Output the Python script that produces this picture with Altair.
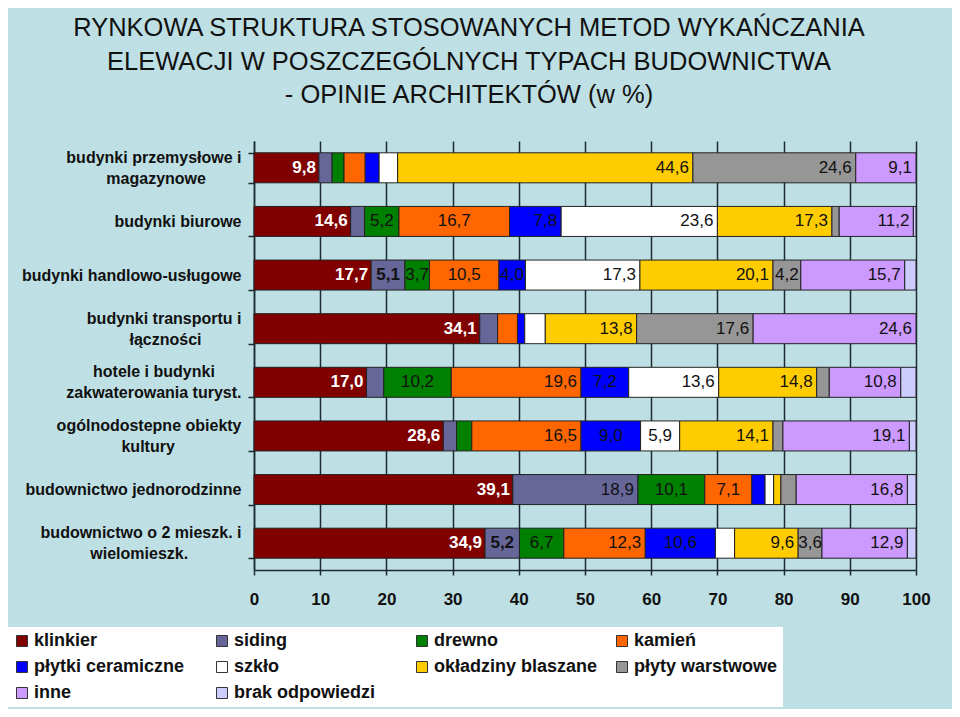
import altair as alt
import pandas as pd

NB = "\u00a0"
WJ = "\u2060"

# category labels: lines and right-side padding (nbsp) to centre lines within the block
cat_lines = [
    ["budynki przemysłowe i", "magazynowe"],
    ["budynki biurowe"],
    ["budynki handlowo-usługowe"],
    ["budynki transportu i", "łączności"],
    ["hotele i budynki", "zakwaterowania turyst."],
    ["ogólnodostepne obiekty", "kultury"],
    ["budownictwo jednorodzinne"],
    ["budownictwo o 2 mieszk. i", "wielomieszk."],
]
cat_pads = [[0, 8], [0], [0], [0, 9], [6, 0], [0, 15], [0], [0, 12]]
categories = ["|".join(l + (NB * p + WJ if p else "") for l, p in zip(ls, ps))
              for ls, ps in zip(cat_lines, cat_pads)]

series = ["klinkier", "siding", "drewno", "kamień", "płytki ceramiczne", "szkło",
          "okładziny blaszane", "płyty warstwowe", "inne", "brak odpowiedzi"]
colors = ["#800000", "#666699", "#008000", "#FF6600", "#0000FF", "#FFFFFF",
          "#FFCC00", "#969696", "#CC99FF", "#CCCCFF"]

v_przem = [9.8, 2.0, 1.8, 3.2, 2.1, 2.8, 44.6, 24.6, 9.1, 0.0]
v_biur = [14.6, 2.1, 5.2, 16.7, 7.8, 23.6, 17.3, 1.1, 11.2, 0.4]
v_handl = [17.7, 5.1, 3.7, 10.5, 4.0, 17.3, 20.1, 4.2, 15.7, 1.7]
v_transp = [34.1, 2.7, 0.0, 3.0, 1.1, 3.1, 13.8, 17.6, 24.6, 0.0]
v_hotel = [17.0, 2.6, 10.2, 19.6, 7.2, 13.6, 14.8, 1.9, 10.8, 2.3]
v_kult = [28.6, 2.0, 2.3, 16.5, 9.0, 5.9, 14.1, 1.5, 19.1, 1.0]
v_jedn = [39.1, 18.9, 10.1, 7.1, 2.0, 1.3, 1.1, 2.3, 16.8, 1.3]
v_wiel = [34.9, 5.2, 6.7, 12.3, 10.6, 2.9, 9.6, 3.6, 12.9, 1.3]
values = [v_przem, v_biur, v_handl, v_transp, v_hotel, v_kult, v_jedn, v_wiel]

label_min = 3.5
centered = [(1, "drewno"), (1, "kamień"), (2, "siding"), (2, "drewno"), (2, "kamień"),
            (2, "płytki ceramiczne"), (2, "płyty warstwowe"), (4, "drewno"),
            (4, "płytki ceramiczne"), (5, "płytki ceramiczne"), (5, "szkło"),
            (6, "drewno"), (6, "kamień"), (7, "siding"), (7, "drewno"),
            (7, "płytki ceramiczne"), (7, "płyty warstwowe")]
bold_black = [(2, "siding"), (7, "siding")]

rows = []
for ci, (cat, vals) in enumerate(zip(categories, values)):
    for si, (s, v) in enumerate(zip(series, vals)):
        if s == "klinkier":
            style = "white"
        elif (ci, s) in bold_black:
            style = "boldc"
        elif (ci, s) in centered:
            style = "center"
        else:
            style = "right"
        rows.append({"cat": cat, "series": s, "v": v, "idx": si,
                     "lab": v >= label_min, "style": style})
df = pd.DataFrame(rows)

FONT = "Liberation Sans"
DARK = "#1c2a33"

base = alt.Chart(df).transform_stack(
    stack="v", groupby=["cat"], as_=["v0", "v1"], sort=[alt.SortField("idx")]
).transform_calculate(
    vm="(datum.v0 + datum.v1) / 2",
    txt="replace(format(datum.v, '.1f'), '.', ',')"
)

yenc = alt.Y("cat:N", sort=categories,
             scale=alt.Scale(paddingInner=0.44, paddingOuter=0.22),
             axis=alt.Axis(title=None, labelExpr="split(datum.label, '|')",
                           labelFont=FONT, labelFontSize=16, labelFontWeight="bold",
                           labelColor="#111", labelLineHeight=21, labelLimit=400,
                           labelPadding=7,
                           labelOffset={"condition": {"test": "indexof(datum.label, '|') >= 0",
                                                      "value": -10.5},
                                        "value": 0},
                           tickBand="extent", tickSize=6,
                           tickColor=DARK, tickWidth=1.5, domainColor=DARK,
                           domainWidth=1.5, grid=False))

bars = base.transform_filter("datum.v > 0").mark_bar(
    stroke="#222", strokeWidth=1, opacity=1
).encode(
    x=alt.X("v0:Q", scale=alt.Scale(domain=[0, 100], nice=False),
            axis=alt.Axis(title=None, values=list(range(0, 101, 10)), grid=True,
                          gridColor=DARK, gridWidth=1.5, tickSize=5, tickColor=DARK,
                          tickWidth=1.5, domainColor=DARK, domainWidth=1.5,
                          labelFont=FONT, labelFontSize=17, labelFontWeight="bold",
                          labelColor="#111", labelPadding=16, labelFlush=False)),
    x2="v1:Q",
    y=yenc,
    color=alt.Color("series:N", sort=series,
                    scale=alt.Scale(domain=series, range=colors),
                    legend=alt.Legend(orient="none", legendX=-246, legendY=486,
                                      columns=4, direction="horizontal",
                                      title=None, symbolType="square",
                                      symbolSize=121, symbolStrokeColor="#333",
                                      symbolStrokeWidth=1, symbolOpacity=1,
                                      labelFont=FONT, labelFontSize=18,
                                      labelFontWeight="bold", labelColor="#111",
                                      fillColor="white", padding=5, rowPadding=8,
                                      columnPadding=15, gridAlign="all",
                                      labelOffset=3, labelLimit=300)),
)


def labels(style, color, weight, align, xfield, dx):
    return base.transform_filter(
        f"datum.lab && datum.style == '{style}'"
    ).mark_text(
        font=FONT, fontSize=17, fontWeight=weight, color=color,
        align=align, baseline="middle", dx=dx
    ).encode(
        x=alt.X(f"{xfield}:Q"),
        y=alt.Y("cat:N", sort=categories),
        text="txt:N",
    )


layers = [
    bars,
    labels("white", "white", "bold", "right", "v1", -3),
    labels("right", "#111", "normal", "right", "v1", -4),
    labels("center", "#111", "normal", "center", "vm", 0),
    labels("boldc", "#111", "bold", "center", "vm", 0),
]

chart = alt.layer(*layers).properties(
    width=662, height=429,
    autosize=alt.AutoSizeParams(type="none"),
    padding={"left": 246, "top": 133, "right": 36, "bottom": 139},
    background="#BEE0E4",
    title=alt.TitleParams(
        text=["RYNKOWA STRUKTURA STOSOWANYCH METOD WYKAŃCZANIA",
              "ELEWACJI W POSZCZEGÓLNYCH TYPACH BUDOWNICTWA",
              "- OPINIE ARCHITEKTÓW (w %)"],
        font=FONT, fontSize=25.5, fontWeight="normal", color="#111",
        lineHeight=33.5, anchor="middle", frame="group", dx=-116, offset=24.5),
).configure_view(stroke=None)

chart.save("out.html", embed_options={"renderer": "svg", "actions": False})
